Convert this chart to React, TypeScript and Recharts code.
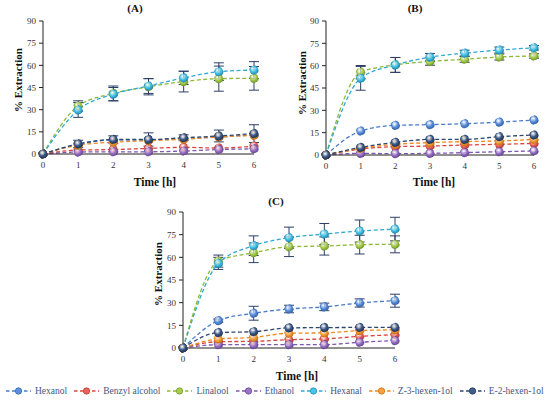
import { ErrorBar, Line, LineChart, XAxis, YAxis } from "recharts";

// sampling times (h) and shared y ticks
const hours = [0, 1, 2, 3, 4, 5, 6];
const yTicks = [0, 15, 30, 45, 60, 75, 90];

// panel A
const aHexanol = [0, 6.5, 9.5, 9.5, 10.5, 11.5, 13];
const aBenzyl = [0, 2.7, 3, 3.8, 4.5, 4, 5.4];
const aLinalool = [0, 32.5, 41, 45.5, 49, 51, 51.2];
const aEthanol = [0, 1.3, 1.5, 1.5, 2, 3, 3.5];
const aHexanal = [0, 29.8, 40.5, 46, 51.5, 55.7, 56.8];
const aZ3 = [0, 6, 8, 9, 10, 11.5, 12.6];
const aE2 = [0, 6.8, 9.8, 9.8, 11, 12.2, 13.8];
const aLinaloolErr = [0, 3.5, 5, 5.5, 7, 8.5, 8];
const aHexanalErr = [0, 5, 4.5, 5, 4.5, 6, 5.7];
const aE2Err = [0, 2.5, 2.5, 4.5, 2, 4, 6];

// panel B
const bHexanol = [0, 16.1, 19.9, 20.4, 21, 22.1, 23.5];
const bBenzyl = [0, 4, 5.6, 6, 6.7, 7.2, 7.8];
const bLinalool = [0, 55.6, 60.5, 62.8, 64.3, 65.8, 66.5];
const bEthanol = [0, 1.1, 0.9, 1.1, 1.6, 2.2, 2.7];
const bHexanal = [0, 51.5, 60.5, 65.7, 68.4, 70.5, 72];
const bZ3 = [0, 4.5, 7.2, 8.3, 9, 9.4, 10.5];
const bE2 = [0, 5.1, 8.5, 10.5, 10.5, 12.3, 13.4];
const bLinaloolErr = [0, 4.5, 5, 2.5, 2, 2, 1.5];
const bHexanalErr = [0, 8, 5, 2.5, 2, 2, 1.5];

// panel C
const cHexanol = [0, 18.1, 23, 25.8, 27.2, 29.8, 31.3];
const cBenzyl = [0, 4.2, 4.4, 5.5, 6, 7.7, 8.8];
const cLinalool = [0, 57.5, 63, 67, 67.5, 68.4, 68.6];
const cEthanol = [0, 2.2, 2.2, 2.2, 2.2, 3.8, 4.9];
const cHexanal = [0, 56, 67.7, 73, 75.4, 77.4, 78.7];
const cZ3 = [0, 6, 7, 9.8, 10, 11.5, 12];
const cE2 = [0, 10.2, 10.8, 13.3, 13.5, 13.6, 13.6];
const cLinaloolErr = [0, 4, 6.5, 6.5, 6, 6.2, 5.6];
const cHexanalErr = [0, 4, 6.5, 7, 7, 7.3, 7.8];
const cHexanolErr = [0, 1, 4.6, 2.5, 2.5, 2.7, 4.3];

const series = [
  { key: "hexanol", name: "Hexanol", line: "#4a7cc9", fill: "#5d91dc", edge: "#2f5ea8" },
  { key: "benzyl", name: "Benzyl alcohol", line: "#d9453e", fill: "#ea625b", edge: "#b8332d" },
  { key: "linalool", name: "Linalool", line: "#8db83a", fill: "#a8cd4c", edge: "#6f9626" },
  { key: "ethanol", name: "Ethanol", line: "#7e57b0", fill: "#9a74c6", edge: "#62408f" },
  { key: "hexanal", name: "Hexanal", line: "#2fa9d2", fill: "#47c4e7", edge: "#1d86ad" },
  { key: "z3", name: "Z-3-hexen-1ol", line: "#ef8a1f", fill: "#f6a23e", edge: "#c96d10" },
  { key: "e2", name: "E-2-hexen-1ol", line: "#2c4670", fill: "#3e5c8c", edge: "#1d3052" },
];

type Values = Record<string, number[]>;

const FONT = '"Liberation Serif", "DejaVu Serif", serif';
const ERR = "#2d3e66";

function Panel({
  id,
  values,
  errors,
  left,
  top,
  margin,
}: {
  id: string;
  values: Values;
  errors: Values;
  left: number;
  top: number;
  margin: { top: number; right: number; bottom: number; left: number };
}) {
  const rows = hours.map((hour, i) => {
    const row: Record<string, number> = { hour };
    for (const s of series) {
      row[s.key] = values[s.key][i];
      if (errors[s.key]) row[s.key + "Err"] = errors[s.key][i];
    }
    return row;
  });

  return (
    <div style={{ position: "absolute", left, top }}>
      <LineChart width={275} height={195} data={rows} margin={margin}>
        <defs>
          {series.map((s) => (
            <radialGradient key={s.key} id={`${id}-${s.key}`} cx="40%" cy="35%" r="70%">
              <stop offset="0%" stopColor="#ffffff" stopOpacity={0.6} />
              <stop offset="50%" stopColor={s.fill} />
              <stop offset="100%" stopColor={s.edge} />
            </radialGradient>
          ))}
        </defs>
        <XAxis
          dataKey="hour"
          type="number"
          domain={[0, 6]}
          ticks={hours}
          height={20}
          tickLine={false}
          tickSize={5}
          tickMargin={3}
          axisLine={{ stroke: "#222", strokeWidth: 1 }}
          tick={{ fontSize: 9, fill: "#333", fontFamily: FONT }}
        />
        <YAxis
          domain={[0, 90]}
          ticks={yTicks}
          width={30}
          tickSize={4}
          tickMargin={3}
          axisLine={{ stroke: "#222", strokeWidth: 1 }}
          tickLine={{ stroke: "#222" }}
          tick={{ fontSize: 9, fill: "#333", fontFamily: FONT }}
        />
        {series.map((s) => (
          <Line
            key={s.key}
            type="monotone"
            dataKey={s.key}
            name={s.name}
            stroke={s.line}
            strokeWidth={1.3}
            strokeDasharray="4 2.5"
            dot={{ r: 4.3, fill: `url(#${id}-${s.key})`, stroke: s.edge, strokeWidth: 0.7 }}
            activeDot={false}
            isAnimationActive={false}
          >
            {errors[s.key] && (
              <ErrorBar
                dataKey={s.key + "Err"}
                direction="y"
                width={5}
                stroke={ERR}
                strokeWidth={1}
                isAnimationActive={false}
              />
            )}
          </Line>
        ))}
      </LineChart>
    </div>
  );
}

function Caption({ x, y, text, size, rotate = 0 }: { x: number; y: number; text: string; size: number; rotate?: number }) {
  return (
    <div
      style={{
        position: "absolute",
        left: x,
        top: y,
        transform: `translate(-50%, -50%) rotate(${rotate}deg)`,
        whiteSpace: "nowrap",
        fontWeight: 700,
        fontSize: size,
        lineHeight: 1,
        color: "#111",
      }}
    >
      {text}
    </div>
  );
}

function LegendIcon({ line, fill, edge }: { line: string; fill: string; edge: string }) {
  return (
    <svg width={27} height={10} style={{ display: "block" }}>
      <line x1={1} y1={5} x2={26} y2={5} stroke={line} strokeWidth={1.3} strokeDasharray="3.5 2.5" />
      <circle cx={13.5} cy={5} r={3.2} fill={fill} stroke={edge} strokeWidth={0.7} />
    </svg>
  );
}

export default function App() {
  const panelA: Values = { hexanol: aHexanol, benzyl: aBenzyl, linalool: aLinalool, ethanol: aEthanol, hexanal: aHexanal, z3: aZ3, e2: aE2 };
  const panelB: Values = { hexanol: bHexanol, benzyl: bBenzyl, linalool: bLinalool, ethanol: bEthanol, hexanal: bHexanal, z3: bZ3, e2: bE2 };
  const panelC: Values = { hexanol: cHexanol, benzyl: cBenzyl, linalool: cLinalool, ethanol: cEthanol, hexanal: cHexanal, z3: cZ3, e2: cE2 };

  return (
    <div
      style={{
        position: "absolute",
        left: 0,
        top: 0,
        width: 550,
        height: 403,
        background: "#fff",
        fontFamily: FONT,
        overflow: "hidden",
      }}
    >
      <Panel
        id="a"
        values={panelA}
        errors={{ linalool: aLinaloolErr, hexanal: aHexanalErr, e2: aE2Err }}
        left={0}
        top={0}
        margin={{ top: 21, right: 21, bottom: 21, left: 13 }}
      />
      <Panel
        id="b"
        values={panelB}
        errors={{ linalool: bLinaloolErr, hexanal: bHexanalErr }}
        left={275}
        top={0}
        margin={{ top: 21, right: 16, bottom: 20, left: 21 }}
      />
      <Panel
        id="c"
        values={panelC}
        errors={{ linalool: cLinaloolErr, hexanal: cHexanalErr, hexanol: cHexanolErr }}
        left={130}
        top={195}
        margin={{ top: 17, right: 10, bottom: 22, left: 23 }}
      />

      <Caption x={135} y={8} text="(A)" size={11} />
      <Caption x={415} y={8} text="(B)" size={11} />
      <Caption x={276} y={201} text="(C)" size={11} />

      <Caption x={155} y={183} text="Time [h]" size={11.5} />
      <Caption x={434} y={183} text="Time [h]" size={11.5} />
      <Caption x={297} y={377} text="Time [h]" size={11.5} />

      <Caption x={18} y={80} text="% Extraction" size={11} rotate={-90} />
      <Caption x={302} y={83} text="% Extraction" size={11} rotate={-90} />
      <Caption x={158} y={274} text="% Extraction" size={11} rotate={-90} />

      <div
        style={{
          position: "absolute",
          left: 5,
          top: 386,
          display: "flex",
          alignItems: "center",
          gap: 6,
          fontSize: 9.5,
          color: "#44557f",
          whiteSpace: "nowrap",
        }}
      >
        {series.map((s) => (
          <div key={s.key} style={{ display: "flex", alignItems: "center", gap: 3 }}>
            <LegendIcon line={s.line} fill={s.fill} edge={s.edge} />
            <span>{s.name}</span>
          </div>
        ))}
      </div>
    </div>
  );
}
